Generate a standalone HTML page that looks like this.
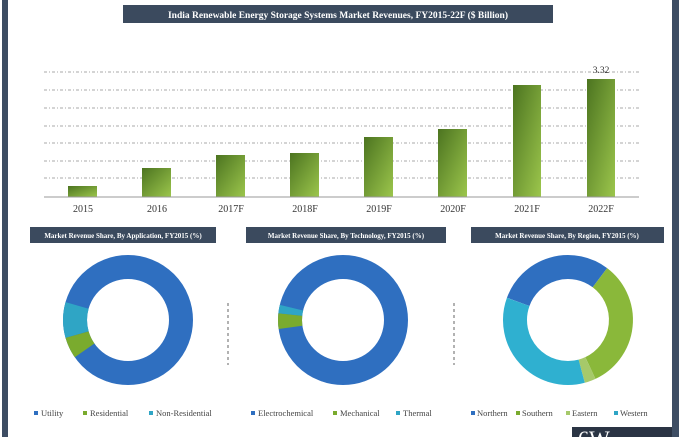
<!DOCTYPE html>
<html><head><meta charset="utf-8"><style>
body{margin:0;width:680px;height:437px;background:#fff;overflow:hidden;position:relative;font-family:"Liberation Serif",serif}
</style></head><body>
<svg width="680" height="437" viewBox="0 0 680 437" xmlns="http://www.w3.org/2000/svg" style="position:absolute;left:0;top:0">
<defs>
<linearGradient id="g" x1="0" y1="0" x2="1" y2="1">
<stop offset="0" stop-color="#4c7420"/><stop offset="1" stop-color="#9cc64c"/>
</linearGradient>
</defs>
<rect x="2" y="0" width="6" height="437" fill="#3d4d63"/>
<rect x="672" y="0" width="7" height="437" fill="#3d4d63"/>
<rect x="123" y="5" width="430" height="18" fill="#3b4a5e"/>
<text x="338" y="18" font-size="9.5" fill="#fff" text-anchor="middle" font-weight="bold">India Renewable Energy Storage Systems Market Revenues, FY2015-22F ($ Billion)</text>
<g stroke="#aaa" stroke-width="1" stroke-dasharray="3,2,1,2">
<line x1="44" y1="72" x2="639" y2="72"/><line x1="44" y1="90" x2="639" y2="90"/><line x1="44" y1="108" x2="639" y2="108"/><line x1="44" y1="126" x2="639" y2="126"/><line x1="44" y1="143" x2="639" y2="143"/><line x1="44" y1="161" x2="639" y2="161"/><line x1="44" y1="178" x2="639" y2="178"/>
</g>
<g fill="url(#g)">
<rect x="68" y="186" width="29" height="11"/>
<rect x="142" y="168" width="29" height="29"/>
<rect x="216" y="155" width="29" height="42"/>
<rect x="290" y="153" width="29" height="44"/>
<rect x="364" y="137" width="29" height="60"/>
<rect x="438" y="129" width="29" height="68"/>
<rect x="513" y="85" width="28" height="112"/>
<rect x="587" y="79" width="28" height="118"/>
</g>
<line x1="44" y1="197" x2="639" y2="197" stroke="#999"/>
<text x="601" y="73" font-size="9.5" fill="#333" text-anchor="middle">3.32</text>
<g font-size="10" fill="#333" text-anchor="middle">
<text x="83" y="212">2015</text><text x="157" y="212">2016</text><text x="231" y="212">2017F</text><text x="305" y="212">2018F</text><text x="379" y="212">2019F</text><text x="453" y="212">2020F</text><text x="527" y="212">2021F</text><text x="601" y="212">2022F</text>
</g>
<rect x="30" y="227" width="186" height="16" fill="#3b4a5e"/>
<rect x="246" y="227" width="200" height="16" fill="#3b4a5e"/>
<rect x="471" y="227" width="193" height="16" fill="#3b4a5e"/>
<g font-size="7" fill="#fff" text-anchor="middle" font-weight="bold">
<text x="123" y="238">Market Revenue Share, By Application, FY2015 (%)</text>
<text x="346" y="238">Market Revenue Share, By Technology, FY2015 (%)</text>
<text x="567" y="238">Market Revenue Share, By Region, FY2015 (%)</text>
</g>
<g stroke="#666" stroke-dasharray="3,3"><line x1="228" y1="303" x2="228" y2="365"/><line x1="454" y1="303" x2="454" y2="365"/></g>
<!-- donut1 -->
<g transform="translate(128,320)" fill="none" stroke-width="24">
<circle r="53" stroke="#2f6fc0"/>
<path d="M -50.9 -14.6 A 53 53 0 0 0 -50.9 14.6" stroke="#2fa5c5"/>
<path d="M -50.9 14.6 A 53 53 0 0 0 -43.4 30.4" stroke="#7aab2e"/>
</g>
<!-- donut2 -->
<g transform="translate(343,320)" fill="none" stroke-width="24">
<circle r="53" stroke="#2f6fc0"/>
<path d="M -52.7 -5.5 A 53 53 0 0 0 -52.5 7.4" stroke="#7aab2e"/>
<path d="M -51.5 -12.3 A 53 53 0 0 0 -52.7 -5.5" stroke="#2fa5c5"/>
</g>
<!-- donut3 -->
<g transform="translate(568,320)" fill="none" stroke-width="24">
<path d="M -49.8 -18.1 A 53 53 0 0 1 31.9 -42.3" stroke="#2f6fc0"/>
<path d="M 31.9 -42.3 A 53 53 0 0 1 22.4 48" stroke="#8ab83a"/>
<path d="M 22.4 48 A 53 53 0 0 1 13.7 51.2" stroke="#a6c96a"/>
<path d="M 13.7 51.2 A 53 53 0 0 1 -49.8 -18.1" stroke="#2fb0d0"/>
</g>
<g font-size="8.5" fill="#444">
<rect x="34" y="411" width="4" height="4" fill="#2f6fc0"/><text x="41" y="416">Utility</text>
<rect x="83" y="411" width="4" height="4" fill="#7aab2e"/><text x="90" y="416">Residential</text>
<rect x="149" y="411" width="4" height="4" fill="#2fa5c5"/><text x="156" y="416">Non-Residential</text>
<rect x="251" y="411" width="4" height="4" fill="#2f6fc0"/><text x="258" y="416">Electrochemical</text>
<rect x="333" y="411" width="4" height="4" fill="#7aab2e"/><text x="340" y="416">Mechanical</text>
<rect x="396" y="411" width="4" height="4" fill="#2fa5c5"/><text x="403" y="416">Thermal</text>
<rect x="471" y="411" width="4" height="4" fill="#2f6fc0"/><text x="477" y="416">Northern</text>
<rect x="516" y="411" width="4" height="4" fill="#7aab2e"/><text x="522" y="416">Southern</text>
<rect x="566" y="411" width="4" height="4" fill="#a6c96a"/><text x="572" y="416">Eastern</text>
<rect x="614" y="411" width="4" height="4" fill="#2fa5c5"/><text x="620" y="416">Western</text>
</g>
<rect x="572" y="427" width="100" height="10" fill="#2a3444"/>
<text x="578" y="446" font-size="22" fill="#fff">6W</text>
</svg>
</body></html>
